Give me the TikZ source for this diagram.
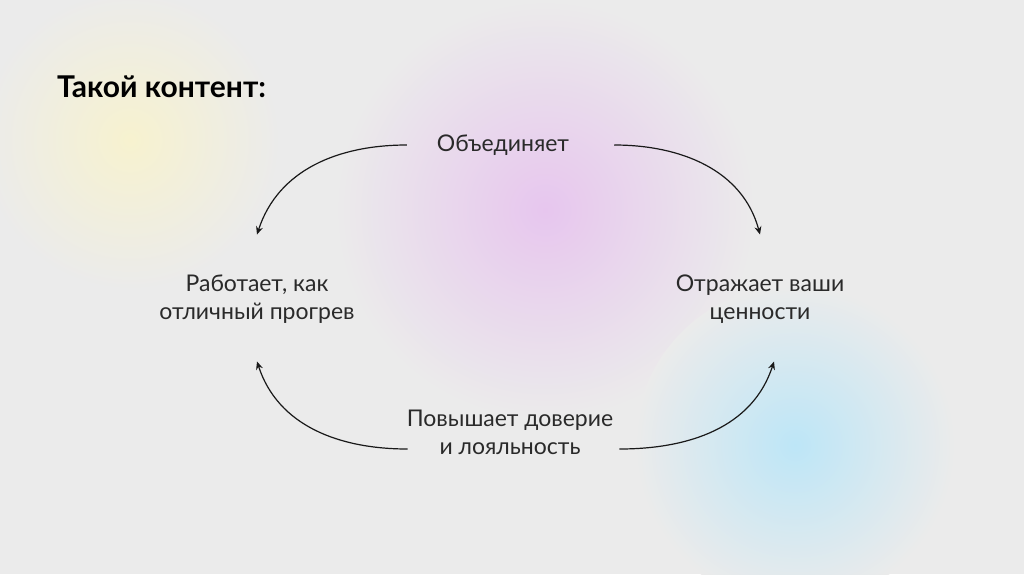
\documentclass[tikz,border=0pt]{standalone}
\usepackage{fontspec}
\setmainfont{Lato}
\usepackage{xcolor}
\usetikzlibrary{positioning,arrows.meta}

\definecolor{bggray}{HTML}{EBEBEB}
\definecolor{glowyellow}{HTML}{F7F2CF}
\definecolor{glowpink}{HTML}{E7C6EE}
\definecolor{glowblue}{HTML}{BDE6F7}
\definecolor{inkgray}{HTML}{2A2A2A}

\begin{document}
\begin{tikzpicture}[
    x=1pt, y=-1pt,
    lbl/.style={align=center, font=\fontsize{23}{28}\selectfont, text=inkgray, inner sep=0pt},
    arr/.style={-{Stealth[length=8pt,width=7pt]}, line width=1.2pt, black!90},
  ]
  \useasboundingbox (0,0) rectangle (1024,574);
  % background and glows
  \begin{scope}
    \clip (0,0) rectangle (1024,574);
    \fill[bggray] (0,0) rectangle (1024,574);
    \shade[inner color=glowyellow, outer color=bggray] (130,140) circle (150);
    \shade[inner color=glowpink, outer color=bggray] (545,210) circle (210);
    \shade[inner color=glowblue, outer color=bggray] (795,445) circle (160);
  \end{scope}

  % title
  \node[anchor=west, font=\fontsize{30}{34}\bfseries, text=black, inner sep=0pt] (title) at (57,87) {Такой контент:};

  % the four statements
  \node[lbl] (unite) at (503,145) {Объединяет};
  \node[lbl] (warm)  at (257,299) {Работает, как\\отличный прогрев};
  \node[lbl] (value) at (760,299) {Отражает ваши\\ценности};
  \node[lbl] (trust) at (510,432) {Повышает доверие\\и лояльность};

  % cycle arrows
  \draw[arr] ([xshift=-30pt]unite.west) to[out=180, in=72] ([yshift=40pt]warm.north);
  \draw[arr] ([xshift=45pt]unite.east) to[out=0, in=105] ([yshift=40pt]value.north);
  \draw[arr] ([xshift=1pt,yshift=-17pt]trust.west) to[out=180, in=-72] ([yshift=-38pt]warm.south);
  \draw[arr] ([xshift=6pt,yshift=-17pt]trust.east) to[out=0, in=-108] ([xshift=14pt,yshift=-38pt]value.south);
\end{tikzpicture}
\end{document}
